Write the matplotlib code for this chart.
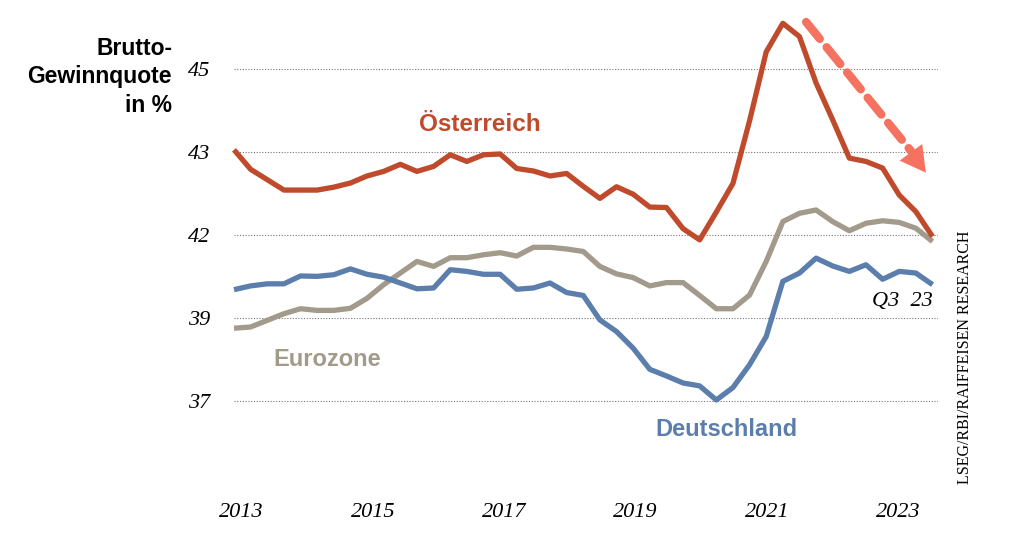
import numpy as np
import matplotlib
matplotlib.use("Agg")
import matplotlib.pyplot as plt

# Quarterly data Q1 2013 - Q3 2023 (gross profit share, %)
oesterreich = [43.05, 42.58, 42.33, 42.08, 42.08, 42.08, 42.15, 42.25, 42.42, 42.53,
               42.70, 42.53, 42.65, 42.93, 42.77, 42.93, 42.95, 42.60, 42.54, 42.42,
               42.48, 42.17, 41.88, 42.16, 41.98, 41.67, 41.66, 41.15, 40.88, 41.55,
               42.24, 43.75, 45.41, 46.10, 45.78, 44.66, 43.77, 42.85, 42.77, 42.61,
               41.96, 41.56, 40.96]
eurozone = [38.75, 38.78, 38.94, 39.10, 39.22, 39.18, 39.18, 39.23, 39.47, 39.80,
            40.08, 40.36, 40.24, 40.45, 40.45, 40.52, 40.57, 40.49, 40.70, 40.70,
            40.66, 40.60, 40.24, 40.06, 39.97, 39.77, 39.85, 39.85, 39.54, 39.22,
            39.22, 39.55, 40.36, 41.32, 41.52, 41.60, 41.32, 41.10, 41.28, 41.34,
            41.30, 41.16, 40.84]
deutschland = [39.68, 39.77, 39.82, 39.82, 40.01, 40.00, 40.04, 40.18, 40.05, 39.98,
               39.84, 39.70, 39.72, 40.16, 40.12, 40.05, 40.05, 39.69, 39.72, 39.84,
               39.61, 39.54, 38.95, 38.67, 38.27, 37.76, 37.60, 37.43, 37.36, 37.02,
               37.32, 37.87, 38.55, 39.88, 40.08, 40.44, 40.25, 40.12, 40.28, 39.93,
               40.12, 40.08, 39.80]

grid_values = [37, 39, 41, 43, 45]
grid_labels = ["37", "39", "42", "43", "45"]
years = [2013, 2015, 2017, 2019, 2021, 2023]

c_at = "#bf4a2c"
c_ez = "#a29a8b"
c_de = "#5c7eac"
c_arrow = "#f4725f"

serif_it = dict(family="Liberation Serif", style="italic")

fig = plt.figure(figsize=(10.24, 5.57), dpi=100)
ax = fig.add_axes([234 / 1024, 57 / 557, 704 / 1024, 490 / 557])

x = np.arange(len(oesterreich))
for series, col in [(eurozone, c_ez), (deutschland, c_de), (oesterreich, c_at)]:
    ax.plot(x, series, color=col, lw=3.8, solid_capstyle="butt",
            solid_joinstyle="round", clip_on=False, zorder=3)

ax.set_xlim(0, 42.33)
ax.set_ylim(34.61, 46.42)

for v in grid_values:
    ax.axhline(v, color="#777777", lw=0.8, ls=(0, (1, 1.5)), zorder=1)

ax.set_yticks(grid_values)
ax.set_yticklabels(grid_labels, fontsize=16, **serif_it)
ax.set_xticks([(yr - 2013) * 3.95 + 0.45 for yr in years])
ax.set_xticklabels([str(yr) for yr in years], fontsize=16, **serif_it)
ax.tick_params(length=0)
ax.tick_params(axis="y", pad=17)
ax.tick_params(axis="x", pad=2)
for s in ax.spines.values():
    s.set_visible(False)

# labels
fig.text(172 / 1024, 1 - 37 / 557, "Brutto-\nGewinnquote\nin %", ha="right", va="top",
         fontsize=16.5, fontweight="bold", family="Liberation Sans", linespacing=1.3)
ax.text(14.8, 43.65, "Österreich", color=c_at, fontsize=17.5, fontweight="bold",
        family="Liberation Sans", ha="center", va="center")
ax.text(5.6, 38.0, "Eurozone", color=c_ez, fontsize=17, fontweight="bold",
        family="Liberation Sans", ha="center", va="center")
ax.text(29.6, 36.3, "Deutschland", color=c_de, fontsize=17, fontweight="bold",
        family="Liberation Sans", ha="center", va="center")
ax.text(42.0, 39.4, "Q3  23", fontsize=16, ha="right", va="center", **serif_it)
fig.text(965 / 1024, 1 - 357 / 557, "LSEG/RBI/RAIFFEISEN RESEARCH", rotation=90,
         ha="center", va="center", fontsize=11.5, family="Liberation Serif")

# trend arrow: dashed shaft + solid head
ax.annotate("", xy=(40.75, 43.0), xytext=(34.4, 46.13),
            arrowprops=dict(arrowstyle="-", color=c_arrow, lw=6,
                            ls=(0, (2.6, 1.3)), shrinkA=0, shrinkB=0), zorder=4)
ax.annotate("", xy=(41.6, 42.5), xytext=(40.5, 43.1),
            arrowprops=dict(arrowstyle="-|>,head_length=0.9,head_width=0.5",
                            mutation_scale=20, color=c_arrow, lw=0.1,
                            shrinkA=0, shrinkB=0), zorder=4)

fig.savefig("out.png", dpi=100)
